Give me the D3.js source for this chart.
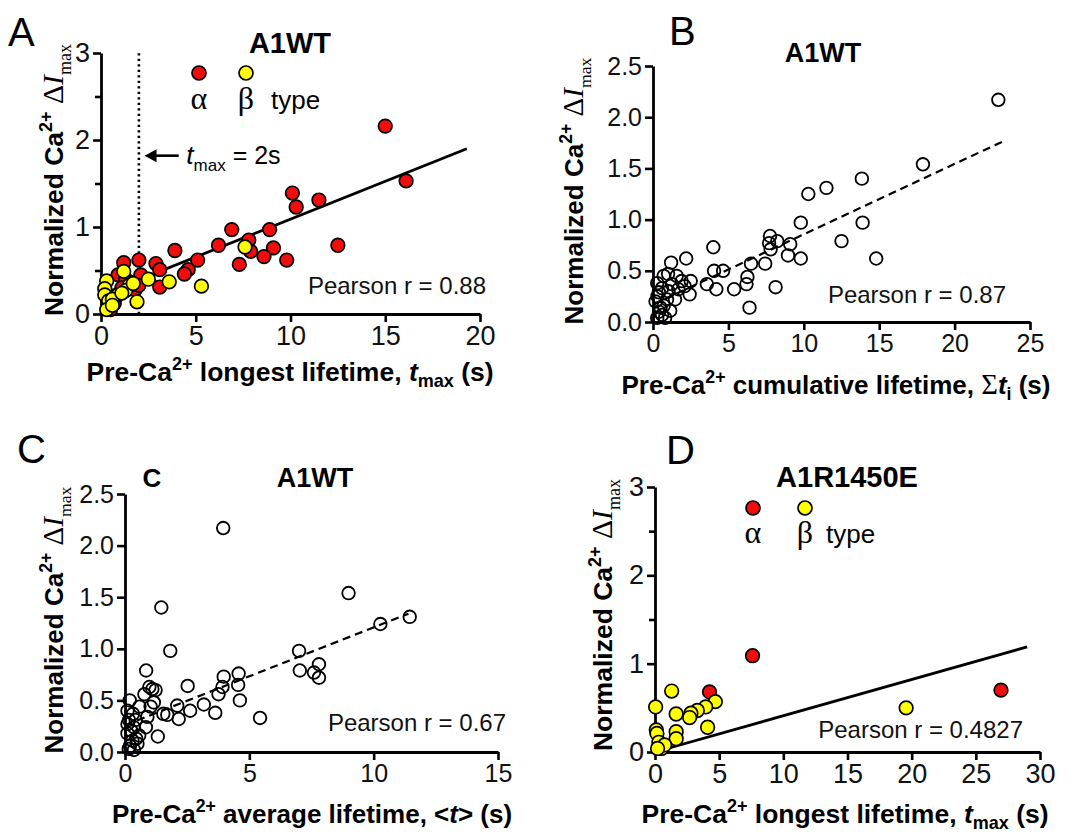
<!DOCTYPE html>
<html>
<head>
<meta charset="utf-8">
<script src="https://cdn.jsdelivr.net/npm/d3@7"></script>
<style>
  body { margin: 0; background: #fff; }
  svg { display: block; }
</style>
</head>
<body>
<div id="chart"></div>
<script>
// ---- data ----
// panel A: A1WT, t_max (s) vs normalized dImax
const aAlpha = [
    [15.0, 2.16], [16.1, 1.53], [10.1, 1.39], [10.3, 1.23], [11.5, 1.31], [12.5, 0.79],
    [6.9, 0.97], [8.9, 0.97], [7.8, 0.85], [7.9, 0.72], [9.1, 0.76], [8.6, 0.66],
    [9.8, 0.62], [7.3, 0.57], [6.2, 0.79], [5.1, 0.62], [3.9, 0.73], [4.6, 0.51],
    [4.4, 0.46], [2.9, 0.58], [3.1, 0.51], [3.1, 0.31], [2.0, 0.62], [2.1, 0.45],
    [1.2, 0.59], [0.9, 0.45], [1.8, 0.28], [1.3, 0.40], [1.6, 0.36], [2.0, 0.33],
    [0.7, 0.12], [0.5, 0.05], [1.1, 0.30]
];
const aBeta = [
    [7.6, 0.77], [5.3, 0.32], [3.6, 0.37], [2.5, 0.40], [1.9, 0.14], [1.2, 0.49],
    [1.5, 0.33], [1.3, 0.27], [0.9, 0.22], [0.3, 0.38], [0.2, 0.29], [0.2, 0.22],
    [0.4, 0.15], [0.3, 0.05], [0.6, 0.17], [1.1, 0.24], [1.7, 0.35], [0.6, 0.10]
];
const aFitX = [0, 19.3];
const aFitY = [0.22, 1.90];

// panel B: A1WT, cumulative lifetime
const bPoints = [
    [22.9, 2.17], [17.9, 1.54], [13.85, 1.40], [13.9, 0.97], [11.5, 1.31], [10.3, 1.25],
    [9.8, 0.97], [12.5, 0.79], [14.8, 0.62], [9.8, 0.62], [9.1, 0.76], [8.95, 0.65],
    [8.24, 0.79], [7.76, 0.84], [7.7, 0.77], [7.8, 0.71], [7.44, 0.57], [8.13, 0.34],
    [6.5, 0.57], [6.26, 0.44], [6.2, 0.37], [6.4, 0.14], [5.38, 0.32], [4.65, 0.50],
    [4.0, 0.73], [4.05, 0.50], [4.2, 0.32], [3.57, 0.37], [2.2, 0.62], [1.2, 0.58],
    [1.57, 0.45], [1.9, 0.40], [2.5, 0.40], [1.25, 0.37], [0.71, 0.45], [0.28, 0.38],
    [0.39, 0.29], [1.03, 0.30], [1.68, 0.32], [2.43, 0.27], [0.17, 0.20], [0.71, 0.16],
    [1.14, 0.11], [0.6, 0.07], [0.28, 0.04], [0.93, 0.22], [1.46, 0.22], [2.1, 0.35],
    [0.5, 0.14], [0.4, 0.10], [0.8, 0.04], [1.0, 0.47], [0.3, 0.25], [0.6, 0.33]
];
const bFitX = [0, 23.3];
const bFitY = [0.17, 1.77];

// panel C: A1WT, average lifetime
const cPoints = [
    [3.95, 2.17], [8.99, 1.54], [11.45, 1.31], [10.27, 1.24], [1.46, 1.40], [1.82, 0.98],
    [7.0, 0.98], [7.03, 0.79], [7.6, 0.77], [7.8, 0.85], [7.8, 0.72], [4.57, 0.76],
    [4.55, 0.65], [4.62, 0.50], [3.97, 0.73], [3.92, 0.63], [3.76, 0.56], [3.63, 0.38],
    [5.43, 0.33], [3.17, 0.46], [2.52, 0.64], [2.62, 0.40], [2.16, 0.32], [2.1, 0.45],
    [1.7, 0.36], [1.54, 0.37], [1.32, 0.15], [0.85, 0.79], [1.1, 0.61], [0.98, 0.63],
    [1.23, 0.60], [0.78, 0.56], [1.16, 0.48], [1.03, 0.44], [0.9, 0.34], [0.84, 0.24],
    [0.58, 0.44], [0.19, 0.50], [0.32, 0.37], [0.16, 0.31], [0.36, 0.24], [0.1, 0.18],
    [0.3, 0.11], [0.5, 0.08], [0.15, 0.03], [0.36, 0.02], [0.1, 0.40], [0.43, 0.31],
    [0.24, 0.21], [0.57, 0.16], [0.2, 0.06], [0.45, 0.13], [0.1, 0.27]
];
const cFitX = [0, 11.4];
const cFitY = [0.26, 1.34];

// panel D: A1R1450E, t_max
const dAlpha = [[7.6, 1.09], [26.96, 0.70], [4.25, 0.68]];
const dBeta = [
    [19.57, 0.50], [4.7, 0.57], [3.95, 0.51], [3.3, 0.47], [2.8, 0.44], [2.7, 0.39],
    [4.1, 0.28], [1.3, 0.69], [1.65, 0.43], [1.65, 0.23], [1.65, 0.15], [0.05, 0.51],
    [0.1, 0.25], [0.15, 0.21], [0.3, 0.11], [0.5, 0.04], [0.75, 0.08], [0.2, 0.04]
];
const dFitX = [0, 29];
const dFitY = [0.0, 1.19];

// ticks
const ticksA = {x: [0, 5, 10, 15, 20], y: [0, 1, 2, 3], yMinor: [0.5, 1.5, 2.5]};
const ticksB = {x: [0, 5, 10, 15, 20, 25], y: [0, 0.5, 1, 1.5, 2, 2.5], yMinor: []};
const ticksC = {x: [0, 5, 10, 15], y: [0, 0.5, 1, 1.5, 2, 2.5], yMinor: []};
const ticksD = {x: [0, 5, 10, 15, 20, 25, 30], y: [0, 1, 2, 3], yMinor: [0.5, 1.5, 2.5]};

// ---- drawing ----
const SANS = "'Liberation Sans', Arial, Helvetica, sans-serif";
const SERIF = "'Liberation Serif', 'Times New Roman', serif";
const RED = "#f20d0d";
const YELLOW = "#ffff00";

const svg = d3.select("#chart")
    .append("svg")
    .attr("width", 1078)
    .attr("height", 834)
    .style("font-family", SANS);

svg.append("rect").attr("width", 1078).attr("height", 834).attr("fill", "#fff");

// text built from parts: {t, b (bold), i (italic), serif, sup, sub, scale}
function richText(sel, parts, size, subShift = 0.3) {
    let offset = 0;
    parts.forEach(p => {
        const target = p.sup ? -0.42 * size : p.sub ? subShift * size : 0;
        sel.append("tspan")
            .attr("dy", target - offset)
            .attr("font-size", (p.sup || p.sub ? 0.68 : (p.scale || 1)) * size)
            .attr("font-weight", p.b ? "bold" : "normal")
            .attr("font-style", p.i ? "italic" : "normal")
            .attr("font-family", p.serif ? SERIF : SANS)
            .text(p.t);
        offset = target;
    });
}

function yTitle(g, x, y, size) {
    const t = g.append("text")
        .attr("transform", `translate(${x},${y}) rotate(-90)`)
        .attr("text-anchor", "middle");
    richText(t, [
        {t: "Normalized Ca", b: true},
        {t: "2+", b: true, sup: true},
        {t: " \u0394", serif: true, scale: 1.12},
        {t: "I", serif: true, i: true, scale: 1.12},
        {t: "max", serif: true, sub: true}
    ], size);
}

function makePanel(p) {
    const g = svg.append("g");
    const x = d3.scaleLinear().domain(p.xDomain).range([p.x0, p.x1]);
    const y = d3.scaleLinear().domain(p.yDomain).range([p.y0, p.y1]);

    const xAxis = g.append("g")
        .attr("transform", `translate(0,${p.y0})`)
        .call(d3.axisBottom(x).tickValues(p.ticks.x).tickSize(8).tickSizeOuter(0)
            .tickPadding(4).tickFormat(d3.format("d")));
    const yAxis = g.append("g")
        .attr("transform", `translate(${p.x0},0)`)
        .call(d3.axisLeft(y).tickValues(p.ticks.y).tickSize(8).tickSizeOuter(0)
            .tickPadding(3).tickFormat(p.yFormat));
    if (p.ticks.yMinor.length) {
        g.append("g")
            .attr("transform", `translate(${p.x0},0)`)
            .call(d3.axisLeft(y).tickValues(p.ticks.yMinor).tickSize(6).tickFormat(""))
            .call(a => a.select(".domain").remove());
    }
    g.selectAll(".domain").attr("stroke-width", 2.8).attr("stroke", "#000");
    g.selectAll(".tick line").attr("stroke-width", 2.6).attr("stroke", "#000");
    [xAxis, yAxis].forEach(a => a.attr("font-family", SANS).attr("font-size", p.tickSize)
        .selectAll("text").attr("fill", "#111"));

    // reference lines (dotted line / arrow) behind points
    if (p.extra) p.extra(g, x, y);

    // fit line
    g.append("line")
        .attr("x1", x(p.fitX[0])).attr("y1", y(p.fitY[0]))
        .attr("x2", x(p.fitX[1])).attr("y2", y(p.fitY[1]))
        .attr("stroke", "#000")
        .attr("stroke-width", p.dashed ? 2.2 : 2.8)
        .attr("stroke-dasharray", p.dashed ? "8,5" : null);

    // points
    p.series.forEach(s => {
        g.append("g").selectAll("circle")
            .data(s.data)
            .join("circle")
            .attr("cx", d => x(d[0]))
            .attr("cy", d => y(d[1]))
            .attr("r", s.r)
            .attr("fill", s.fill)
            .attr("stroke", "#000")
            .attr("stroke-width", s.sw);
    });

    // labels
    g.append("text").attr("x", p.letter[0]).attr("y", p.letter[1])
        .attr("font-size", 40).text(p.name);
    g.append("text").attr("x", p.title[0]).attr("y", p.title[1])
        .attr("text-anchor", "middle").attr("font-size", p.titleSize)
        .attr("font-weight", "bold").text(p.titleText);
    g.append("text").attr("x", p.pearson[0]).attr("y", p.pearson[1])
        .attr("text-anchor", "end").attr("font-size", 24)
        .attr("fill", "#111").text(p.pearsonText);

    yTitle(g, p.yTitle[0], p.yTitle[1], p.labelSize);
    const xt = g.append("text").attr("x", p.xTitle[0]).attr("y", p.xTitle[1])
        .attr("text-anchor", "middle");
    richText(xt, p.xTitleParts, p.labelSize, 0.22);

    return {g, x, y};
}

function legend(g, cx1, cx2, cy, ty, typeX) {
    g.append("circle").attr("cx", cx1).attr("cy", cy).attr("r", 7)
        .attr("fill", RED).attr("stroke", "#000").attr("stroke-width", 1.7);
    g.append("circle").attr("cx", cx2).attr("cy", cy).attr("r", 7)
        .attr("fill", YELLOW).attr("stroke", "#000").attr("stroke-width", 1.7);
    g.append("text").attr("x", cx1).attr("y", ty).attr("text-anchor", "middle")
        .attr("font-family", SERIF).attr("font-size", 32).text("\u03b1");
    g.append("text").attr("x", cx2).attr("y", ty).attr("text-anchor", "middle")
        .attr("font-family", SERIF).attr("font-size", 32).text("\u03b2");
    g.append("text").attr("x", typeX).attr("y", ty).attr("font-size", 26).text("type");
}

const tmaxTitle = [
    {t: "Pre-Ca", b: true}, {t: "2+", b: true, sup: true},
    {t: " longest lifetime, ", b: true}, {t: "t", b: true, i: true},
    {t: "max", b: true, sub: true}, {t: " (s)", b: true}
];

// A
const pA = makePanel({
    name: "A", letter: [8, 46],
    xDomain: [0, 20], yDomain: [0, 3], x0: 101, x1: 480, y0: 314, y1: 53,
    ticks: ticksA, yFormat: d3.format("d"), tickSize: 27,
    fitX: aFitX, fitY: aFitY, dashed: false,
    series: [
        {data: aAlpha, fill: RED, r: 6.8, sw: 1.7},
        {data: aBeta, fill: YELLOW, r: 6.8, sw: 1.7}
    ],
    title: [290, 53], titleText: "A1WT", titleSize: 29,
    pearson: [486, 294], pearsonText: "Pearson r = 0.88",
    yTitle: [63, 180], xTitle: [290, 381], xTitleParts: tmaxTitle, labelSize: 26.5,
    extra: (g, x, y) => {
        g.append("line")
            .attr("x1", x(2)).attr("x2", x(2)).attr("y1", y(0)).attr("y2", y(3))
            .attr("stroke", "#000").attr("stroke-width", 2.6).attr("stroke-dasharray", "2.2,3.3");
        // arrow pointing at the dotted line
        g.append("line")
            .attr("x1", x(4.1)).attr("x2", x(2.6)).attr("y1", y(1.82)).attr("y2", y(1.82))
            .attr("stroke", "#000").attr("stroke-width", 2.6);
        const tip = [x(2.3), y(1.82)];
        g.append("path")
            .attr("d", `M${tip[0]},${tip[1]} l12,-6.5 l0,13 z`)
            .attr("fill", "#000");
        const t = g.append("text").attr("x", x(4.5)).attr("y", y(1.82) + 8);
        richText(t, [
            {t: "t", i: true, scale: 1.05}, {t: "max", sub: true}, {t: " = 2s"}
        ], 25);
    }
});
legend(pA.g, 199, 246, 73, 109, 271);

// B
makePanel({
    name: "B", letter: [669, 45],
    xDomain: [0, 25], yDomain: [0, 2.5], x0: 653, x1: 1030, y0: 322, y1: 66,
    ticks: ticksB, yFormat: d3.format(".1f"), tickSize: 25,
    fitX: bFitX, fitY: bFitY, dashed: true,
    series: [{data: bPoints, fill: "none", r: 6.3, sw: 1.8}],
    title: [823, 62], titleText: "A1WT", titleSize: 27,
    pearson: [1006, 303], pearsonText: "Pearson r = 0.87",
    yTitle: [583, 191], xTitle: [836, 394], labelSize: 26,
    xTitleParts: [
        {t: "Pre-Ca", b: true}, {t: "2+", b: true, sup: true},
        {t: " cumulative lifetime, ", b: true}, {t: "\u03a3", serif: true, scale: 1.1},
        {t: "t", b: true, i: true}, {t: "i", b: true, sub: true}, {t: " (s)", b: true}
    ]
});

// C
const pC = makePanel({
    name: "C", letter: [17, 463],
    xDomain: [0, 15], yDomain: [0, 2.5], x0: 125, x1: 498, y0: 752, y1: 494,
    ticks: ticksC, yFormat: d3.format(".1f"), tickSize: 25,
    fitX: cFitX, fitY: cFitY, dashed: true,
    series: [{data: cPoints, fill: "none", r: 6.3, sw: 1.8}],
    title: [315, 487], titleText: "A1WT", titleSize: 27,
    pearson: [506, 731], pearsonText: "Pearson r = 0.67",
    yTitle: [63, 620], xTitle: [312, 823], labelSize: 26,
    xTitleParts: [
        {t: "Pre-Ca", b: true}, {t: "2+", b: true, sup: true},
        {t: " average lifetime, <", b: true}, {t: "t", b: true, i: true},
        {t: "> (s)", b: true}
    ]
});
pC.g.append("text").attr("x", 152).attr("y", 487).attr("text-anchor", "middle")
    .attr("font-size", 26).attr("font-weight", "bold").text("C");

// D
const pD = makePanel({
    name: "D", letter: [666, 464],
    xDomain: [0, 30], yDomain: [0, 3], x0: 655, x1: 1040, y0: 752, y1: 487,
    ticks: ticksD, yFormat: d3.format("d"), tickSize: 27,
    fitX: dFitX, fitY: dFitY, dashed: false,
    series: [
        {data: dAlpha, fill: RED, r: 6.8, sw: 1.7},
        {data: dBeta, fill: YELLOW, r: 6.8, sw: 1.7}
    ],
    title: [847, 487], titleText: "A1R1450E", titleSize: 29,
    pearson: [1023, 738], pearsonText: "Pearson r = 0.4827",
    yTitle: [612, 615], xTitle: [845, 823], xTitleParts: tmaxTitle, labelSize: 26.5
});
legend(pD.g, 753, 805, 508, 543, 826);
</script>
</body>
</html>
